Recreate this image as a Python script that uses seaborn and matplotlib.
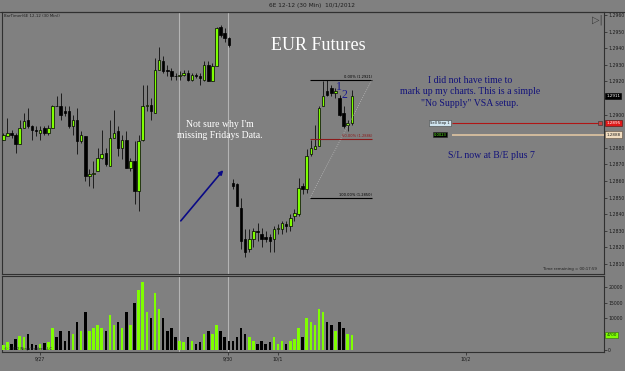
import matplotlib
matplotlib.use("Agg")
import matplotlib.pyplot as plt
import matplotlib.transforms as mtransforms
import seaborn as sns
import numpy as np
import pandas as pd

# ---------------- data ----------------
opens = [1.2885, 1.2887, 1.2889, 1.2888, 1.2882, 1.2892, 1.2897, 1.2893, 1.2891, 1.2889,
         1.2892, 1.2889, 1.2892, 1.2905, 1.2905, 1.2902, 1.2902, 1.2893, 1.2897, 1.2884,
         1.2887, 1.2863, 1.2864, 1.2866, 1.2874, 1.2877, 1.2869, 1.2886, 1.2890, 1.2880,
         1.2885, 1.2868, 1.2872, 1.2854, 1.2885, 1.2905, 1.2906, 1.2901, 1.2927, 1.2932,
         1.2927, 1.2926, 1.2923, 1.2923, 1.2924, 1.2925, 1.2921, 1.2924, 1.2923, 1.2921,
         1.2930, 1.2920, 1.2929, 1.2953, 1.2949, 1.2946, 1.2859, 1.2858, 1.2844, 1.2825,
         1.2819, 1.2825, 1.2830, 1.2828, 1.2826, 1.2826, 1.2825, 1.2831, 1.2831, 1.2834,
         1.2833, 1.2839, 1.2840, 1.2857, 1.2855, 1.2876, 1.2879, 1.2881, 1.2905, 1.2914,
         1.2916, 1.2913, 1.2910, 1.2901, 1.2894, 1.2895]
highs = [1.2889, 1.2898, 1.2891, 1.2889, 1.2897, 1.2901, 1.2904, 1.2894, 1.2893, 1.2893,
         1.2893, 1.2894, 1.2906, 1.2911, 1.2913, 1.2905, 1.2905, 1.2900, 1.2904, 1.2890,
         1.2887, 1.2867, 1.2872, 1.2880, 1.2891, 1.2880, 1.2897, 1.2903, 1.2893, 1.2888,
         1.2890, 1.2874, 1.2884, 1.2888, 1.2918, 1.2918, 1.2910, 1.2934, 1.2941, 1.2935,
         1.2930, 1.2928, 1.2925, 1.2926, 1.2927, 1.2927, 1.2925, 1.2925, 1.2925, 1.2932,
         1.2932, 1.2931, 1.2953, 1.2954, 1.2952, 1.2947, 1.2861, 1.2859, 1.2850, 1.2831,
         1.2831, 1.2832, 1.2835, 1.2832, 1.2830, 1.2828, 1.2833, 1.2834, 1.2836, 1.2836,
         1.2840, 1.2843, 1.2862, 1.2859, 1.2879, 1.2885, 1.2894, 1.2905, 1.2920, 1.2921,
         1.2918, 1.2916, 1.2912, 1.2905, 1.2897, 1.2915]
lows = [1.2885, 1.2887, 1.2886, 1.2877, 1.2882, 1.2892, 1.2892, 1.2885, 1.2887, 1.2885,
        1.2888, 1.2888, 1.2892, 1.2905, 1.2897, 1.2899, 1.2892, 1.2888, 1.2876, 1.2883,
        1.2860, 1.2857, 1.2856, 1.2866, 1.2873, 1.2869, 1.2869, 1.2886, 1.2875, 1.2873,
        1.2868, 1.2866, 1.2846, 1.2842, 1.2884, 1.2902, 1.2897, 1.2901, 1.2927, 1.2925,
        1.2923, 1.2921, 1.2921, 1.2921, 1.2923, 1.2920, 1.2920, 1.2922, 1.2918, 1.2920,
        1.2920, 1.2920, 1.2929, 1.2947, 1.2944, 1.2941, 1.2855, 1.2845, 1.2819, 1.2814,
        1.2817, 1.2820, 1.2824, 1.2820, 1.2823, 1.2817, 1.2817, 1.2828, 1.2828, 1.2829,
        1.2830, 1.2836, 1.2839, 1.2852, 1.2853, 1.2875, 1.2879, 1.2881, 1.2905, 1.2911,
        1.2911, 1.2910, 1.2899, 1.2892, 1.2890, 1.2894]
closes = [1.2888, 1.2889, 1.2888, 1.2882, 1.2892, 1.2896, 1.2893, 1.2891, 1.2890, 1.2891,
          1.2889, 1.2892, 1.2905, 1.2905, 1.2900, 1.2901, 1.2893, 1.2897, 1.2884, 1.2888,
          1.2863, 1.2864, 1.2865, 1.2874, 1.2876, 1.2870, 1.2886, 1.2889, 1.2880, 1.2885,
          1.2868, 1.2872, 1.2854, 1.2884, 1.2905, 1.2906, 1.2902, 1.2927, 1.2933, 1.2926,
          1.2926, 1.2923, 1.2923, 1.2924, 1.2925, 1.2921, 1.2924, 1.2923, 1.2922, 1.2930,
          1.2920, 1.2929, 1.2952, 1.2948, 1.2946, 1.2942, 1.2857, 1.2845, 1.2824, 1.2817,
          1.2825, 1.2830, 1.2829, 1.2825, 1.2825, 1.2824, 1.2831, 1.2832, 1.2835, 1.2833,
          1.2838, 1.2841, 1.2856, 1.2855, 1.2875, 1.2880, 1.2881, 1.2904, 1.2911, 1.2912,
          1.2913, 1.2914, 1.2900, 1.2893, 1.2895, 1.2911]
volumes = [1500, 2500, 1800, 3500, 4500, 4000, 5000, 2000, 1500, 1800,
           2200, 2500, 7000, 4000, 6000, 3000, 6000, 5000, 9000, 6000,
           12000, 6000, 7000, 8000, 7000, 6000, 11000, 8000, 9000, 7000,
           12000, 8000, 15000, 19000, 21500, 12000, 10000, 18000, 13000, 10000,
           6000, 7000, 4000, 3000, 2500, 4000, 3000, 2000, 2500, 5000,
           6000, 5000, 8000, 6000, 4000, 3000, 3000, 4000, 7000, 5000,
           4000, 3000, 2000, 3000, 2000, 2500, 4000, 2000, 3000, 2000,
           3000, 3500, 7000, 4000, 10000, 9000, 8000, 13000, 12000, 9000,
           8000, 6000, 9000, 7000, 5000, 4700]

price_ticks = [1.2960, 1.2950, 1.2940, 1.2930, 1.2920, 1.2910, 1.2900, 1.2890,
               1.2880, 1.2870, 1.2860, 1.2850, 1.2840, 1.2830, 1.2820, 1.2810]
volume_ticks = [0, 5000, 10000, 15000, 20000]
date_ticks = [8.95, 54.8, 67.0, 112.85]
date_labels = ["9/27", "9/30", "10/1", "10/2"]
session_lines = [42.85, 54.8]

fib_levels = [1.2921, 1.28855, 1.2850]
fib_labels = ["0.00% (1.2921)", "50.00% (1.2886)", "100.00% (1.2850)"]
stop_price = 1.2895
entry_price = 1.2888
last_price = 1.2911

# ---------------- style ----------------
sns.set_theme(style="white")
plt.rcParams['font.family'] = ['DejaVu Sans']
BG = '#808080'
GREEN = '#7FFF00'
NAVY = '#12127a'
SERIF = ['Liberation Serif', 'DejaVu Serif']

df = pd.DataFrame({'idx': np.arange(len(opens)), 'open': opens, 'high': highs,
                   'low': lows, 'close': closes, 'vol': volumes})
df['dir'] = np.where(df['close'] > df['open'], 'up', 'down')

fig = plt.figure(figsize=(6.25, 3.71), dpi=100, facecolor=BG)
W = 625.0
H = 371.0
L, R = 2, 604
ax = fig.add_axes([L / W, 1 - 274 / H, (R - L) / W, (274 - 12) / H], facecolor=BG)
axv = fig.add_axes([L / W, 1 - 352 / H, (R - L) / W, (352 - 276) / H], facecolor=BG, sharex=ax)

# ---- candles ----
ax.vlines(df['idx'], df['low'], df['high'], color='#1c1c1c', lw=0.7, zorder=2)
body_lo = np.minimum(df['open'], df['close'])
body_h = np.maximum(np.abs(df['close'] - df['open']), 0.00004)
colors = [GREEN if d == 'up' else '#000000' for d in df['dir']]
ax.bar(df['idx'], body_h, bottom=body_lo, width=0.62, color=colors,
       edgecolor='#000000', linewidth=0.5, zorder=3)

# ---- volume ----
sns.barplot(data=df, x='idx', y='vol', hue='dir', palette={'up': GREEN, 'down': '#000000'},
            native_scale=True, dodge=False, width=0.6, saturation=1, errorbar=None,
            legend=False, ax=axv, linewidth=0, zorder=3)
axv.set_xlabel('')
axv.set_ylabel('')

# ---- limits ----
xl = ((L - 3.3) / 4.1, (R - 3.3) / 4.1)
ax.set_xlim(*xl)
ax.set_ylim(1.28040, 1.29618)
axv.set_ylim(-630, 23380)
axv.set_xlim(*xl)

for a in (ax, axv):
    for x in session_lines:
        a.axvline(x, color='#b4b4b4', lw=0.8, zorder=1)
    for s in a.spines.values():
        s.set_color('#303030')
        s.set_linewidth(0.8)
    a.grid(False)

# price axis (right); labels hidden where the order/price flags sit on top of them
covered = {1.2910, 1.2890}
ax.yaxis.tick_right()
ax.set_yticks(price_ticks)
ax.set_yticklabels(["" if round(t, 4) in covered else f"{t:.4f}" for t in price_ticks])
ax.tick_params(axis='y', right=True, length=2, width=0.5, color='#222222',
               labelsize=3.3, labelcolor='#1a1a1a', pad=1)
ax.tick_params(axis='x', bottom=False, labelbottom=False)

axv.yaxis.tick_right()
axv.set_yticks(volume_ticks)
axv.set_yticklabels(["" if v == 5000 else str(v) for v in volume_ticks])
axv.tick_params(axis='y', right=True, length=2, width=0.5, color='#222222',
                labelsize=3.3, labelcolor='#1a1a1a', pad=1)
axv.set_xticks(date_ticks)
axv.set_xticklabels(date_labels)
axv.tick_params(axis='x', bottom=True, length=2, width=0.5, color='#222222',
                labelsize=3.3, labelcolor='#1a1a1a', pad=1.5)

# ---- fibonacci retracement ----
fx0, fx1 = (310 - 3.3) / 4.1, (372 - 3.3) / 4.1
fib_colors = ['#000000', '#8b1a1a', '#000000']
for lev, lab, c in zip(fib_levels, fib_labels, fib_colors):
    ax.hlines(lev, fx0, fx1, color=c, lw=0.8, zorder=4)
    ax.text(fx1, lev + 0.00005, lab, fontsize=2.6, color=c, ha='right', va='bottom', zorder=5)
ax.plot([fx0, fx1], [fib_levels[2], fib_levels[0]], color='#b8b8b8', lw=0.6, ls=':', zorder=4)

# ---- order lines ----
ox0, ox1 = (452 - 3.3) / 4.1, (598 - 3.3) / 4.1
ax.hlines(stop_price, ox0, ox1, color='#b01515', lw=0.8, zorder=4)
ax.hlines(entry_price, ox0, (R - 3.3) / 4.1, color='#d8c0a0', lw=1.3, zorder=4)
lx = (440 - 3.3) / 4.1
ax.text(lx, stop_price, "Sell Stop 1", fontsize=2.6, color='#1a1a1a', ha='center', va='center',
        zorder=6, bbox=dict(boxstyle='square,pad=0.25', fc='#cfe3ee', ec='#404040', lw=0.4))
ax.text(lx, entry_price, "0.0023", fontsize=2.6, color='#6bff2a', ha='center', va='center',
        zorder=6, bbox=dict(boxstyle='square,pad=0.25', fc='#000000', ec='#2a2a2a', lw=0.4))
ax.plot([(600 - 3.3) / 4.1], [stop_price], marker='s', ms=2.5, mfc='#c84040', mec='#303030',
        mew=0.4, zorder=6)

trans = mtransforms.blended_transform_factory(ax.transAxes, ax.transData)
ax.text(1.004, stop_price, f"{stop_price:.4f}", transform=trans, fontsize=3, color='white',
        ha='left', va='center', clip_on=False, zorder=7,
        bbox=dict(boxstyle='square,pad=0.25', fc='#e01818', ec='#501010', lw=0.4))
ax.text(1.004, entry_price, f"{entry_price:.4f}", transform=trans, fontsize=3, color='#222222',
        ha='left', va='center', clip_on=False, zorder=7,
        bbox=dict(boxstyle='square,pad=0.25', fc='#f0dcc0', ec='#605040', lw=0.4))
ax.text(1.004, last_price, f"{last_price:.4f}", transform=trans, fontsize=3, color='white',
        ha='left', va='center', clip_on=False, zorder=7,
        bbox=dict(boxstyle='square,pad=0.25', fc='#000000', ec='#000000', lw=0.4))
transv = mtransforms.blended_transform_factory(axv.transAxes, axv.transData)
axv.text(1.004, volumes[-1], f"{volumes[-1]}", transform=transv, fontsize=3, color='#103010',
         ha='left', va='center', clip_on=False, zorder=7,
         bbox=dict(boxstyle='square,pad=0.25', fc='#7fff00', ec='#306010', lw=0.4))

# ---- texts / annotations (figure pixel coordinates) ----
def fp(x, y):
    return (x / W, 1 - y / H)

fig.text(*fp(312, 5), "6E 12-12 (30 Min)  10/1/2012", fontsize=4.2, color='#1e1e1e',
         ha='center', va='center')
fig.add_artist(plt.Line2D([0, 1], [1 - 12 / H, 1 - 12 / H], color='#303030', lw=0.8))
fig.text(*fp(4, 16), "BarTimer(6E 12-12 (30 Min))", fontsize=2.8, color='#1e1e1e',
         ha='left', va='center')
fig.text(*fp(597, 20), "▷|", fontsize=7, color='#3a3a3a', ha='center', va='center')
fig.text(*fp(597, 269), "Time remaining = 00:17:59", fontsize=2.8, color='#1e1e1e',
         ha='right', va='center')
fig.text(*fp(4, 349), "© 2012 NinjaTrader, LLC", fontsize=2.8, color='#1e1e1e',
         ha='left', va='center')

fig.text(*fp(318, 45), "EUR Futures", fontsize=13, color='white', family=SERIF,
         ha='center', va='center')
fig.text(*fp(220, 130), "Not sure why I'm\nmissing Fridays Data.", fontsize=7, color='white',
         family=SERIF, ha='center', va='center', linespacing=1.25)
fig.text(*fp(470, 92), "I did not have time to\nmark up my charts. This is a simple\n\"No Supply\" VSA setup.",
         fontsize=7, color=NAVY, family=SERIF, ha='center', va='center', linespacing=1.3)
fig.text(*fp(491, 156), "S/L now at B/E plus 7", fontsize=7, color=NAVY, family=SERIF,
         ha='center', va='center')
fig.text(*fp(339, 87), "1", fontsize=8.5, color='#1a1a90', family=SERIF, ha='center',
         va='center', zorder=10)
fig.text(*fp(344, 95), "2", fontsize=8.5, color='#1a1a90', family=SERIF, ha='center',
         va='center', zorder=10)

ax.annotate('', xy=(225, H - 168), xycoords='figure pixels', xytext=(179, H - 223),
            textcoords='figure pixels',
            arrowprops=dict(arrowstyle='-|>', color='#0a0a86', lw=1.2, mutation_scale=6))

fig.savefig('out.png', dpi=100, facecolor=BG)
